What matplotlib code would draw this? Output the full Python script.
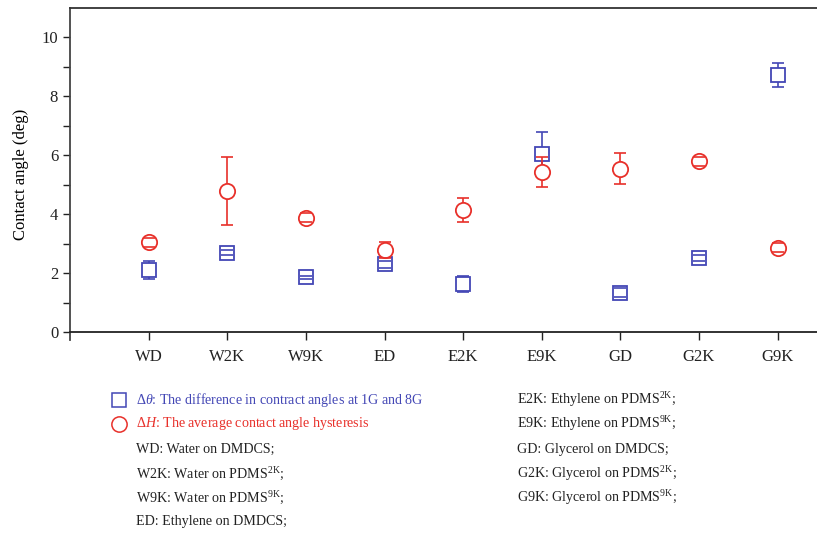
import matplotlib
matplotlib.use("Agg")
import matplotlib.pyplot as plt
from matplotlib.lines import Line2D

plt.rcParams['font.family'] = ['Liberation Serif', 'DejaVu Serif']
plt.rcParams['mathtext.fontset'] = 'custom'
plt.rcParams['mathtext.rm'] = 'Liberation Serif'
plt.rcParams['mathtext.it'] = 'Liberation Serif:italic'
plt.rcParams['mathtext.bf'] = 'Liberation Serif:bold'

categories = ["WD", "W2K", "W9K", "ED", "E2K", "E9K", "GD", "G2K", "G9K"]
dtheta = [2.1, 2.7, 1.86, 2.3, 1.63, 6.03, 1.33, 2.5, 8.72]
dtheta_err = [0.3, 0.1, 0.05, 0.12, 0.27, 0.77, 0.15, 0.1, 0.4]
dH = [3.05, 4.78, 3.88, 2.8, 4.15, 5.44, 5.54, 5.8, 2.86]
dH_err = [0.15, 1.15, 0.15, 0.27, 0.4, 0.5, 0.53, 0.15, 0.15]

legend_left = [
    r"$\Delta\theta$: The difference in contract angles at 1G and 8G",
    r"$\Delta H$: The average contact angle hysteresis",
    "WD: Water on DMDCS;",
    r"W2K: Water on PDMS$^{\mathrm{2K}}$;",
    r"W9K: Water on PDMS$^{\mathrm{9K}}$;",
    "ED: Ethylene on DMDCS;",
]
legend_right = [
    r"E2K: Ethylene on PDMS$^{\mathrm{2K}}$;",
    r"E9K: Ethylene on PDMS$^{\mathrm{9K}}$;",
    "GD: Glycerol on DMDCS;",
    r"G2K: Glycerol on PDMS$^{\mathrm{2K}}$;",
    r"G9K: Glycerol on PDMS$^{\mathrm{9K}}$;",
]

blue = "#4347b5"
red = "#e8302a"

W, H = 817, 534
fig = plt.figure(figsize=(W / 100, H / 100), dpi=100)
ax = fig.add_axes([70 / W, 1 - 340 / H, (W - 70) / W, 332 / H])

x = list(range(1, len(categories) + 1))
series = [(dtheta, dtheta_err, 's', 9.5, blue, 3), (dH, dH_err, 'o', 11, red, 5)]
for vals, errs, mk, ms, col, z in series:
    eb = ax.errorbar(x, vals, yerr=errs, fmt='none', ecolor=col, elinewidth=1.2,
                     capsize=4, capthick=1.2, zorder=z)
    ax.plot(x, vals, ls='none', marker=mk, ms=ms, mfc='white', mec=col, mew=1.3, zorder=z + 0.5)
    for cl in eb[1]:
        cl.set_zorder(z + 1)

ax.set_xlim(0, 9.5)
ax.set_ylim(-0.27, 11)
ax.spines['bottom'].set_position(('data', 0))
ax.spines['right'].set_visible(False)
for s in ['left', 'bottom', 'top']:
    ax.spines[s].set_linewidth(1.3)
ax.spines['left'].set_color('#444444')
ax.spines['top'].set_color('#333333')
ax.spines['bottom'].set_color('#222222')

ax.set_xticks(x)
ax.set_xticklabels(categories, fontsize=12)
ax.set_yticks([0, 2, 4, 6, 8, 10])
ax.set_yticks([1, 3, 5, 7, 9], minor=True)
ax.tick_params(axis='y', which='both', direction='out', length=5, width=1, labelsize=12, colors='#222222')
ax.tick_params(axis='x', direction='out', length=6, width=1, pad=6, colors='#222222')
ax.set_ylabel("Contact angle (deg)", fontsize=12, labelpad=9)

# custom legend / notes below the plot
row_y = [400, 424, 449, 474, 498, 522]
fig.add_artist(Line2D([119 / W], [1 - 400 / H], marker='s', mfc='none', mec=blue,
                      ms=9.5, mew=1.1, ls='none', transform=fig.transFigure))
fig.add_artist(Line2D([119 / W], [1 - 424 / H], marker='o', mfc='none', mec=red,
                      ms=11, mew=1.1, ls='none', transform=fig.transFigure))
colors_left = [blue, red] + ['#222222'] * 4
fs = 10.1
for txt, yy, c in zip(legend_left, row_y, colors_left):
    fig.text(136 / W, 1 - yy / H, txt, color=c, fontsize=fs, va='center', ha='left')
for txt, yy in zip(legend_right, row_y):
    fig.text(517 / W, 1 - yy / H, txt, color='#222222', fontsize=fs, va='center', ha='left')

fig.savefig("out.png", dpi=100)
